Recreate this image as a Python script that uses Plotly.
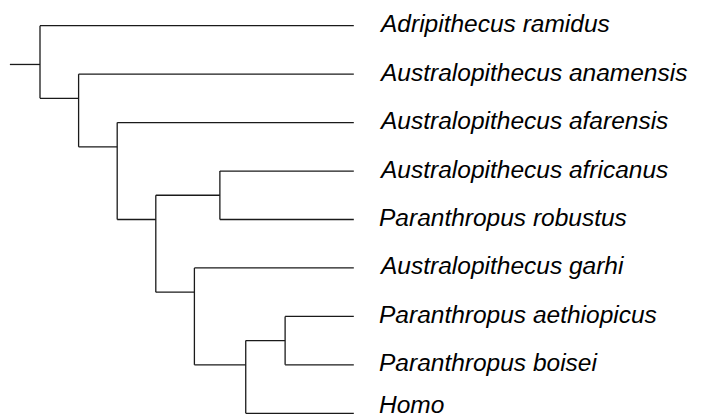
import plotly.graph_objects as go

# ---- data ----
tip_labels = ["Adripithecus ramidus", "Australopithecus anamensis", "Australopithecus afarensis",
              "Australopithecus africanus", "Paranthropus robustus", "Australopithecus garhi",
              "Paranthropus aethiopicus", "Paranthropus boisei", "Homo"]
tip_y = [1, 2, 3, 4, 5, 6, 7, 8, 9]
tip_depth = 8.13

node_names = ["n1", "n2", "n3", "n4", "n5", "n6", "n7", "n8"]
node_depth = [0.0, 1.0, 2.0, 3.0, 4.66, 4.0, 5.33, 6.35]
node_y = [1.8, 2.5, 3.5, 5.0, 4.5, 6.5, 8.0, 7.5]
root_depth = -0.78

# children of each internal node: ("t", index) for tips, ("n", index) for nodes
children = {
    0: [("t", 0), ("n", 1)],
    1: [("t", 1), ("n", 2)],
    2: [("t", 2), ("n", 3)],
    3: [("n", 4), ("n", 5)],
    4: [("t", 3), ("t", 4)],
    5: [("t", 5), ("n", 6)],
    6: [("n", 7), ("t", 8)],
    7: [("t", 6), ("t", 7)],
}

def pos(c):
    kind, i = c
    if kind == "t":
        return tip_depth, tip_y[i]
    return node_depth[i], node_y[i]

xs, ys = [], []
# root stem
xs += [root_depth, node_depth[0], None]
ys += [node_y[0], node_y[0], None]
for p, kids in children.items():
    px, py = node_depth[p], node_y[p]
    cys = [pos(c)[1] for c in kids]
    # vertical connector
    xs += [px, px, None]
    ys += [min(cys), max(cys), None]
    for c in kids:
        cx, cy = pos(c)
        xs += [px, cx, None]
        ys += [cy, cy, None]

fig = go.Figure()
fig.add_trace(go.Scatter(x=xs, y=ys, mode="lines",
                         line=dict(color="#1a1a1a", width=1.3),
                         hoverinfo="skip", showlegend=False))

n = len(tip_labels)
for k, (lab, y) in enumerate(zip(tip_labels, tip_y)):
    fig.add_annotation(x=tip_depth, y=y, text=lab, showarrow=False,
                       xanchor="left", yanchor="middle", xshift=23,
                       yshift=9 if k == n - 1 else 2,
                       font=dict(family="Liberation Sans, Arial, sans-serif", size=24.5,
                                 color="#000000", style="italic"))

# page body has an 8px margin; figure is sized/offset to compensate
W, H = 709, 410
px_per_x = 38.6
px_per_y = 48.45
x0_px = 32
y1_px = 17.7
fig.update_layout(
    width=W, height=H,
    margin=dict(l=0, r=0, t=0, b=0),
    paper_bgcolor="white", plot_bgcolor="white",
    xaxis=dict(range=[-x0_px / px_per_x, (W - x0_px) / px_per_x], visible=False, fixedrange=True),
    yaxis=dict(range=[1 + (H - y1_px) / px_per_y, 1 - y1_px / px_per_y], visible=False, fixedrange=True),
)
fig.write_html("out.html")
